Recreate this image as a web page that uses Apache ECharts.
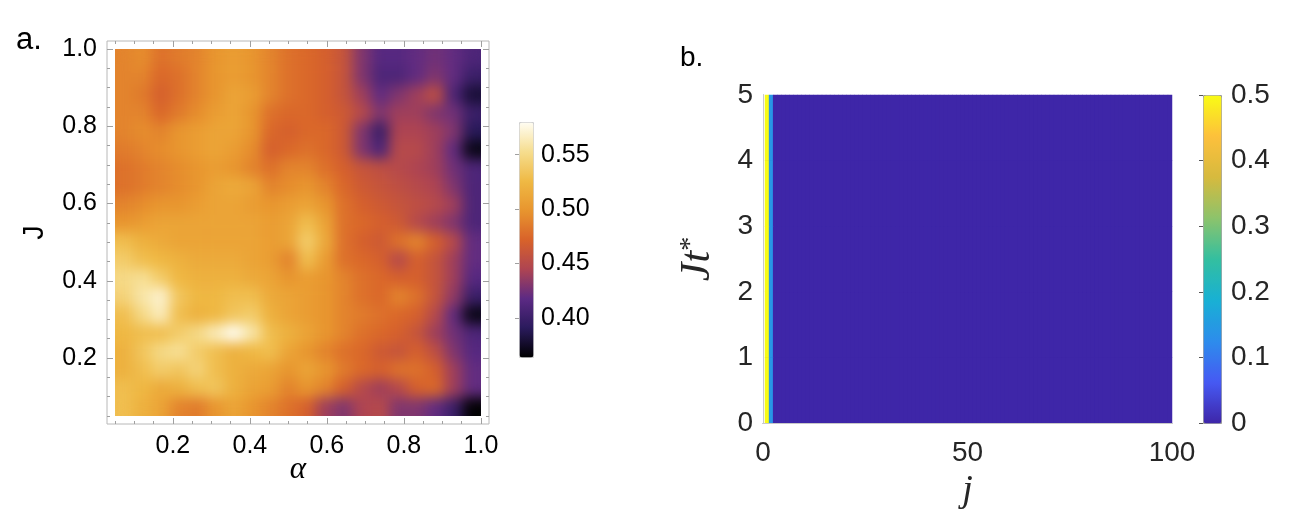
<!DOCTYPE html>
<html>
<head>
<meta charset="utf-8">
<script src="https://cdn.jsdelivr.net/npm/echarts@6/dist/echarts.min.js"></script>
<style>
html, body { margin: 0; padding: 0; background: #fff; }
#wrap { position: relative; width: 1291px; height: 527px; }
#heatA { position: absolute; left: 115px; top: 49px; width: 366px; height: 367px; z-index: 1; filter: url(#smooth); }
#main { position: absolute; left: 0; top: 0; width: 1291px; height: 527px; z-index: 2; }
</style>
</head>
<body>
<svg width="0" height="0" style="position:absolute">
  <filter id="smooth" x="0" y="0" width="100%" height="100%" color-interpolation-filters="sRGB">
    <feGaussianBlur stdDeviation="6.5"/>
    <feComponentTransfer><feFuncA type="table" tableValues="1 1"/></feComponentTransfer>
  </filter>
</svg>
<div id="wrap"><div id="heatA"></div><div id="main"></div></div>
<script>
// panel a: grid of alpha (columns) x J (rows, top = 1.00)
var alphaVals = ['0.05','0.10','0.15','0.20','0.25','0.30','0.35','0.40','0.45','0.50',
                 '0.55','0.60','0.65','0.70','0.75','0.80','0.85','0.90','0.95','1.00'];
var jVals = ['1.00','0.95','0.90','0.85','0.80','0.75','0.70','0.65','0.60','0.55',
             '0.50','0.45','0.40','0.35','0.30','0.25','0.20','0.15','0.10','0.05'];
var ratioRows = [
    [0.49,0.495,0.48,0.485,0.49,0.50,0.505,0.50,0.49,0.48,0.475,0.47,0.46,0.43,0.415,0.415,0.42,0.425,0.42,0.41],   // J 1.00
    [0.49,0.49,0.475,0.48,0.49,0.50,0.505,0.50,0.49,0.48,0.475,0.47,0.46,0.43,0.41,0.41,0.42,0.43,0.42,0.40],       // J 0.95
    [0.49,0.485,0.47,0.48,0.49,0.50,0.51,0.505,0.49,0.48,0.475,0.47,0.46,0.44,0.42,0.43,0.44,0.455,0.41,0.38],      // J 0.90
    [0.49,0.49,0.475,0.485,0.495,0.505,0.51,0.50,0.48,0.475,0.475,0.47,0.465,0.45,0.43,0.44,0.44,0.43,0.425,0.40],  // J 0.85
    [0.49,0.495,0.49,0.50,0.505,0.51,0.51,0.50,0.475,0.47,0.475,0.475,0.465,0.43,0.40,0.445,0.445,0.44,0.43,0.39],  // J 0.80
    [0.485,0.49,0.495,0.50,0.505,0.51,0.505,0.495,0.47,0.475,0.48,0.475,0.465,0.43,0.41,0.45,0.45,0.44,0.42,0.37],  // J 0.75
    [0.48,0.485,0.49,0.495,0.50,0.505,0.50,0.49,0.48,0.49,0.49,0.48,0.47,0.46,0.455,0.45,0.445,0.44,0.425,0.41],    // J 0.70
    [0.48,0.485,0.49,0.495,0.50,0.51,0.515,0.51,0.49,0.495,0.50,0.49,0.475,0.465,0.46,0.455,0.45,0.445,0.43,0.41],  // J 0.65
    [0.49,0.495,0.50,0.50,0.505,0.51,0.51,0.505,0.50,0.505,0.51,0.50,0.48,0.47,0.465,0.46,0.455,0.45,0.44,0.41],    // J 0.60
    [0.50,0.505,0.51,0.51,0.51,0.51,0.51,0.51,0.505,0.51,0.53,0.51,0.48,0.475,0.47,0.465,0.45,0.44,0.43,0.41],      // J 0.55
    [0.53,0.52,0.515,0.51,0.51,0.51,0.51,0.51,0.505,0.51,0.54,0.515,0.48,0.47,0.465,0.48,0.49,0.47,0.45,0.42],      // J 0.50
    [0.54,0.53,0.525,0.52,0.515,0.515,0.515,0.51,0.505,0.49,0.53,0.505,0.48,0.475,0.47,0.45,0.47,0.46,0.44,0.42],   // J 0.45
    [0.55,0.555,0.54,0.525,0.52,0.52,0.52,0.515,0.51,0.50,0.505,0.50,0.49,0.48,0.475,0.47,0.47,0.46,0.44,0.415],    // J 0.40
    [0.545,0.56,0.57,0.535,0.525,0.525,0.53,0.53,0.515,0.51,0.505,0.50,0.49,0.48,0.475,0.49,0.48,0.46,0.435,0.40],  // J 0.35
    [0.53,0.55,0.565,0.53,0.52,0.525,0.535,0.54,0.52,0.51,0.505,0.50,0.49,0.485,0.48,0.475,0.47,0.45,0.42,0.37],    // J 0.30
    [0.525,0.53,0.53,0.54,0.55,0.565,0.58,0.56,0.53,0.52,0.51,0.50,0.49,0.48,0.475,0.47,0.46,0.44,0.425,0.41],      // J 0.25
    [0.52,0.535,0.55,0.555,0.54,0.53,0.52,0.525,0.53,0.51,0.50,0.49,0.48,0.475,0.465,0.46,0.47,0.455,0.43,0.415],   // J 0.20
    [0.52,0.53,0.54,0.535,0.545,0.53,0.52,0.515,0.51,0.50,0.51,0.50,0.485,0.475,0.47,0.48,0.48,0.47,0.44,0.42],     // J 0.15
    [0.53,0.525,0.515,0.52,0.53,0.535,0.52,0.51,0.505,0.49,0.50,0.49,0.47,0.45,0.44,0.45,0.47,0.475,0.44,0.42],     // J 0.10
    [0.53,0.52,0.51,0.49,0.485,0.50,0.51,0.50,0.49,0.48,0.47,0.44,0.43,0.445,0.45,0.43,0.43,0.42,0.40,0.365]        // J 0.05
];
var aMajorTicks = [0.2, 0.4, 0.6, 0.8, 1.0];
var aMinorTicks = [0.05,0.1,0.15,0.2,0.25,0.3,0.35,0.4,0.45,0.5,0.55,0.6,0.65,0.7,0.75,0.8,0.85,0.9,0.95,1.0];
var cbATicks = [0.40, 0.45, 0.50, 0.55];
var cbARange = [0.364, 0.58];
var sunset = ['#000000','#2a1a5c','#5c2a84','#ae4452','#d8622a','#e8952e','#efb944','#f6dd8e','#fffdf2'];

// panel b: site j (1..100) vs J t*, the profile is the same at every time
var bTimes = ['0.5','1.5','2.5','3.5','4.5'];
var bProfile = [
    0.5, 0.14, 0, 0, 0, 0, 0, 0, 0, 0, 0, 0, 0, 0, 0, 0, 0, 0, 0, 0,
    0, 0, 0, 0, 0, 0, 0, 0, 0, 0, 0, 0, 0, 0, 0, 0, 0, 0, 0, 0,
    0, 0, 0, 0, 0, 0, 0, 0, 0, 0, 0, 0, 0, 0, 0, 0, 0, 0, 0, 0,
    0, 0, 0, 0, 0, 0, 0, 0, 0, 0, 0, 0, 0, 0, 0, 0, 0, 0, 0, 0,
    0, 0, 0, 0, 0, 0, 0, 0, 0, 0, 0, 0, 0, 0, 0, 0, 0, 0, 0, 0
];
var bXTicks = [0, 50, 100];
var parula = ['#3e26a8','#4659f3','#2d8cec','#18b0d4','#33bfa0','#8cc36c','#d6ba3e','#fdc03c','#f9fb15'];

var bSites = bProfile.map(function(v, i) { return String(i + 1); });

var dataA = [];
ratioRows.forEach(function(row, r) {
    row.forEach(function(v, c) { dataA.push([c, r, v]); });
});
var dataB = [];
bTimes.forEach(function(t, r) {
    bProfile.forEach(function(v, c) { dataB.push([c, r, v]); });
});

// smoothed density (panel a) in its own chart, under the axes
var heatA = echarts.init(document.getElementById('heatA'));
heatA.setOption({
    animation: false,
    grid: { left: 0, right: 0, top: 0, bottom: 0 },
    xAxis: { type: 'category', data: alphaVals, show: false },
    yAxis: { type: 'category', data: jVals, inverse: true, show: false },
    visualMap: { show: false, min: cbARange[0], max: cbARange[1], inRange: { color: sunset } },
    series: [{ type: 'heatmap', data: dataA, itemStyle: { borderWidth: 0 } }]
});

var sansA = 'Liberation Sans';
var frameGray = '#b8b8b8';
var tickGray = '#a0a0a0';
var inkB = '#262626';

function minorAxis(grid, pos, vals, len) {
    return {
        type: 'value', gridIndex: grid, position: pos, min: 0.029, max: 1.021,
        axisLine: { show: false }, splitLine: { show: false },
        axisTick: { show: true, inside: true, length: len, customValues: vals, lineStyle: { color: tickGray } },
        axisLabel: { show: false }
    };
}

var main = echarts.init(document.getElementById('main'));
main.setOption({
    animation: false,
    grid: [
        { left: 107, top: 41, width: 382, height: 383, show: true, borderColor: frameGray, borderWidth: 1, backgroundColor: 'transparent' },
        { left: 519, top: 122, width: 14, height: 235 },
        { left: 763, top: 95, width: 409, height: 328 },
        // backing colour under the cells hides anti-aliasing seams between them
        { left: 765, top: 95, width: 407, height: 328, show: true, borderWidth: 0, backgroundColor: parula[0] },
        { left: 1203, top: 95, width: 18, height: 328 }
    ],
    graphic: [
        { type: 'text', left: 16, top: 25, style: { text: 'a.', font: '31px "Liberation Sans"', fill: '#000' } },
        { type: 'text', left: 680, top: 44, style: { text: 'b.', font: '28px "Liberation Sans"', fill: '#000' } }
    ],
    xAxis: [
        {
            type: 'value', gridIndex: 0, position: 'bottom', min: 0.029, max: 1.021,
            axisLine: { show: false }, splitLine: { show: false },
            axisTick: { show: true, inside: true, length: 6, customValues: aMajorTicks, lineStyle: { color: tickGray } },
            axisLabel: { customValues: aMajorTicks, margin: 10, fontSize: 25, fontFamily: sansA, color: '#000',
                formatter: function(v) { return v.toFixed(1); } },
            name: 'α', nameLocation: 'middle', nameGap: 30, nameMoveOverlap: false,
            nameTextStyle: { fontFamily: 'Liberation Serif', fontStyle: 'italic', fontSize: 31, color: '#000' }
        },
        minorAxis(0, 'bottom', aMinorTicks, 3),
        minorAxis(0, 'top', aMajorTicks, 6),
        minorAxis(0, 'top', aMinorTicks, 3),
        { type: 'value', gridIndex: 1, show: false, min: 0, max: 1 },
        {
            type: 'value', gridIndex: 2, position: 'bottom', min: 0, max: 100, z: 10,
            axisLine: { show: true, lineStyle: { color: '#8c8c8c', width: 1 } },
            axisTick: { show: false }, splitLine: { show: false },
            axisLabel: { customValues: bXTicks, margin: 16, fontSize: 28, fontFamily: sansA, color: inkB },
            name: 'j', nameLocation: 'middle', nameGap: 46,
            nameTextStyle: { fontFamily: 'Liberation Serif', fontStyle: 'italic', fontSize: 38, color: inkB }
        },
        {
            type: 'value', gridIndex: 2, position: 'top', min: 0, max: 100, z: 10,
            axisLine: { show: true, lineStyle: { color: '#c8c8c8', width: 1 } },
            axisTick: { show: false }, axisLabel: { show: false }, splitLine: { show: false }
        },
        { type: 'category', gridIndex: 3, data: bSites, show: false },
        { type: 'value', gridIndex: 4, show: false, min: 0, max: 1 }
    ],
    yAxis: [
        {
            type: 'value', gridIndex: 0, position: 'left', min: 0.029, max: 1.021,
            axisLine: { show: false }, splitLine: { show: false },
            axisTick: { show: true, inside: true, length: 6, customValues: aMajorTicks, lineStyle: { color: tickGray } },
            axisLabel: { customValues: aMajorTicks, margin: 10, fontSize: 25, fontFamily: sansA, color: '#000',
                formatter: function(v) { return v.toFixed(1); } },
            name: 'J', nameLocation: 'middle', nameGap: 58, nameRotate: 90,
            nameTextStyle: { fontFamily: sansA, fontSize: 29, color: '#000' }
        },
        minorAxis(0, 'left', aMinorTicks, 3),
        minorAxis(0, 'right', aMajorTicks, 6),
        minorAxis(0, 'right', aMinorTicks, 3),
        {
            type: 'value', gridIndex: 1, position: 'right', min: cbARange[0], max: cbARange[1],
            axisLine: { show: false }, splitLine: { show: false },
            axisTick: { show: true, inside: true, length: 4, customValues: cbATicks, lineStyle: { color: tickGray } },
            axisLabel: { customValues: cbATicks, margin: 8, fontSize: 25, fontFamily: sansA, color: '#000',
                formatter: function(v) { return v.toFixed(2); } }
        },
        {
            type: 'value', gridIndex: 2, position: 'left', min: 0, max: 5, interval: 1, z: 10,
            axisLine: { show: true, lineStyle: { color: '#8c8c8c', width: 1 } },
            axisTick: { show: false }, splitLine: { show: false },
            axisLabel: { margin: 10, fontSize: 28, fontFamily: sansA, color: inkB },
            name: '{i|Jt}{s|*}', nameLocation: 'middle', nameGap: 44, nameRotate: 90,
            nameTextStyle: {
                rich: {
                    i: { fontFamily: 'Liberation Serif', fontStyle: 'italic', fontSize: 42, color: inkB },
                    s: { fontFamily: 'Liberation Serif', fontSize: 28, verticalAlign: 'top', color: inkB }
                }
            }
        },
        {
            type: 'value', gridIndex: 2, position: 'right', min: 0, max: 5, z: 10,
            axisLine: { show: true, lineStyle: { color: '#c8c8c8', width: 1 } },
            axisTick: { show: false }, axisLabel: { show: false }, splitLine: { show: false }
        },
        { type: 'category', gridIndex: 3, data: bTimes, show: false },
        {
            type: 'value', gridIndex: 4, position: 'right', min: 0, max: 0.5, interval: 0.1,
            axisLine: { show: false }, splitLine: { show: false },
            axisTick: { show: true, inside: true, length: 4, lineStyle: { color: '#555' } },
            axisLabel: { margin: 10, fontSize: 28, fontFamily: sansA, color: inkB }
        }
    ],
    visualMap: [
        {
            type: 'continuous', seriesIndex: [], min: cbARange[0], max: cbARange[1],
            left: 519, top: 122, itemWidth: 14, itemHeight: 235, padding: 0,
            calculable: false, hoverLink: false, borderColor: '#d0d0d0', borderWidth: 1,
            inRange: { color: sunset }
        },
        {
            type: 'continuous', seriesIndex: 0, min: 0, max: 0.5,
            left: 1203, top: 95, itemWidth: 18, itemHeight: 328, padding: 0,
            calculable: false, hoverLink: false, borderColor: '#9a9a9a', borderWidth: 1,
            inRange: { color: parula }
        }
    ],
    series: [
        { type: 'heatmap', xAxisIndex: 7, yAxisIndex: 7, data: dataB, itemStyle: { borderWidth: 0 } }
    ]
});
</script>
</body>
</html>
